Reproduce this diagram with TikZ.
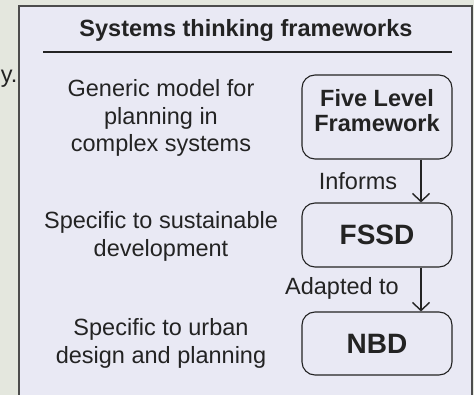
\documentclass[tikz,border=0pt]{standalone}
\usepackage{fontspec}
\setmainfont{Liberation Sans}
\usetikzlibrary{arrows.meta}
\definecolor{outerbg}{RGB}{228,231,222}
\definecolor{panelbg}{RGB}{233,233,244}
\definecolor{ink}{RGB}{35,35,35}

\begin{document}
\begin{tikzpicture}[x=1pt,y=-1pt,
    txt/.style={text=ink,align=center,inner sep=0pt,anchor=base,
      font=\fontsize{23.5}{27.5}\selectfont},
    frame/.style={draw=ink,line width=1.1pt,rounded corners=13pt,
      minimum width=150pt,text=ink,align=center,inner sep=0pt,
      font=\fontsize{23.5}{25}\selectfont\bfseries},
    link/.style={draw=ink,line width=1.4pt,-{Straight Barb[length=8pt,width=17pt,line width=1.4pt]}}]
				\useasboundingbox (0,0) rectangle (474,395);
				\fill[outerbg] (0,0) rectangle (474,395);
				\fill[panelbg] (19,6) rectangle (472,400);
				\draw[gray!60!black,line width=1.3pt] (19,400) -- (19,6) -- (472,6) -- (472,400);
				\node[txt,anchor=base east] (cut) at (17.5,83) {y.};
				\node[txt,font=\fontsize{23.5}{27.5}\selectfont\bfseries] (title) at (246,37) {Systems thinking frameworks};
				\draw[ink,line width=2pt] (43,52) -- (452,52);
				\node[frame,minimum height=84pt] (flf) at (377,117) {};
				\node[txt,font=\fontsize{23.5}{25}\selectfont\bfseries] (flftext) at (377,132) {Five Level\\Framework};
				\node[frame,minimum height=64pt,font=\fontsize{28}{30}\selectfont\bfseries] (fssd) at (377,235) {FSSD};
				\node[frame,minimum height=63pt,font=\fontsize{28}{30}\selectfont\bfseries] (nbd) at (377,343.5) {NBD};
				% base anchor sits on the last line
				\node[txt] (generic) at (161,152) {Generic model for\\planning in\\complex systems};
				\node[txt] (sustain) at (161,256.5) {Specific to sustainable\\development};
				\node[txt] (urban) at (161,363) {Specific to urban\\design and planning};
				\draw[link] ([xshift=44pt]flf.south) -- ([xshift=44pt]fssd.north);
				\draw[link] ([xshift=44pt]fssd.south) -- ([xshift=44pt]nbd.north);
				\node[txt] (informs) at (358,190) {Informs};
				\node[txt] (adapted) at (342,295) {Adapted to};
\end{tikzpicture}
\end{document}
